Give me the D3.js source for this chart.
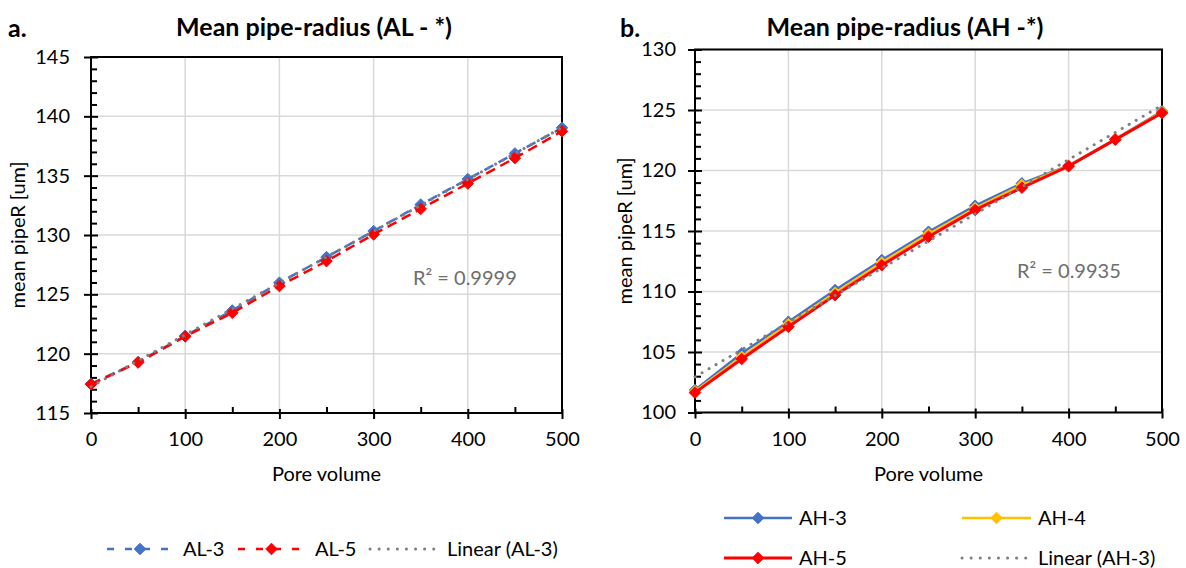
<html>
<head>
<meta charset="utf-8">
<style>
  body { margin: 0; background: #fff; }
  svg text { font-family: Lato, "Noto Sans", sans-serif; fill: #000; }
  .grid line { stroke: #d9d9d9; stroke-width: 1.5px; }
  .axis path, .axis line { stroke: #000; stroke-width: 2px; }
  .axis .domain { display: none; }
</style>
</head>
<body>
<script src="https://cdn.jsdelivr.net/npm/d3@7"></script>
<script>
// pore volume steps
var poreVol = [0, 50, 100, 150, 200, 250, 300, 350, 400, 450, 500];

// chart a
var al3 = [117.45, 119.3, 121.5, 123.64, 125.98, 128.14, 130.33, 132.56, 134.71, 136.87, 139.03];
var al5 = [117.42, 119.25, 121.45, 123.44, 125.7, 127.8, 130.05, 132.2, 134.34, 136.48, 138.74];
var r2a = "R² = 0.9999";

// chart b
var ah3 = [101.86, 104.89, 107.5, 110.12, 112.6, 114.94, 117.09, 118.94, 120.4, 122.6, 124.9];
var ah4 = [101.75, 104.6, 107.3, 109.9, 112.4, 114.75, 116.9, 118.8, 120.38, 122.58, 124.82];
var ah5 = [101.64, 104.42, 107.09, 109.7, 112.17, 114.53, 116.74, 118.58, 120.35, 122.55, 124.75];
var r2b = "R² = 0.9935";

var xTicks = [0, 100, 200, 300, 400, 500];
var xMinor = [50, 150, 250, 350, 450];
var yTicksA = [115, 120, 125, 130, 135, 140, 145];
var yTicksB = [100, 105, 110, 115, 120, 125, 130];

var blue = "#4472c4", red = "#ff0000", yellow = "#ffc000", gray = "#7f7f7f";
var fs = 20;

var svg = d3.select("body").append("svg")
    .attr("width", 1186)
    .attr("height", 568);

// least squares line, like excel's trendline
function linFit(xs, ys) {
  var mx = d3.mean(xs), my = d3.mean(ys);
  var sxy = d3.sum(xs, (x, i) => (x - mx) * (ys[i] - my));
  var sxx = d3.sum(xs, x => (x - mx) * (x - mx));
  var b = sxy / sxx;
  return { a: my - b * mx, b: b };
}

var diamond = d3.symbol().type(d3.symbolDiamond2).size(85);

function drawChart(o) {
  var g = svg.append("g");
  var x = d3.scaleLinear().domain([0, 500]).range([o.left, o.right]);
  var y = d3.scaleLinear().domain(o.yDomain).range([o.bottom, o.top]);

  // gridlines
  var grid = g.append("g").attr("class", "grid");
  grid.selectAll(".h").data(o.yTicks).join("line")
      .attr("x1", o.left).attr("x2", o.right)
      .attr("y1", d => y(d)).attr("y2", d => y(d));
  grid.selectAll(".v").data(xTicks).join("line")
      .attr("y1", o.top).attr("y2", o.bottom)
      .attr("x1", d => x(d)).attr("x2", d => x(d));

  // frame
  g.append("rect")
      .attr("x", o.left).attr("y", o.top)
      .attr("width", o.right - o.left).attr("height", o.bottom - o.top)
      .attr("fill", "none").attr("stroke", "#000").attr("stroke-width", 2);

  // y axis: majors cross, minors inside
  var minorY = d3.range(o.yDomain[0], o.yDomain[1] + 0.5, 1).filter(v => v % 5 != 0);
  g.append("g").attr("class", "axis").attr("transform", `translate(${o.left},0)`)
      .call(d3.axisLeft(y).tickValues(o.yTicks).tickSize(7).tickPadding(o.yPad))
      .selectAll("text").attr("font-size", fs).style("font-family", "Lato");
  g.append("g").attr("class", "axis").attr("transform", `translate(${o.left},0)`)
      .call(d3.axisLeft(y).tickValues(o.yTicks).tickSize(-7).tickFormat(""));
  g.append("g").attr("class", "axis").attr("transform", `translate(${o.left},0)`)
      .call(d3.axisLeft(y).tickValues(minorY).tickSize(-6).tickFormat(""));

  // x axis
  g.append("g").attr("class", "axis").attr("transform", `translate(0,${o.bottom})`)
      .call(d3.axisBottom(x).tickValues(xTicks).tickSize(6).tickPadding(13))
      .selectAll("text").attr("font-size", fs).style("font-family", "Lato");
  g.append("g").attr("class", "axis").attr("transform", `translate(0,${o.bottom})`)
      .call(d3.axisBottom(x).tickValues(xTicks).tickSize(-4).tickFormat(""));
  g.append("g").attr("class", "axis").attr("transform", `translate(0,${o.bottom})`)
      .call(d3.axisBottom(x).tickValues(xMinor).tickSize(-6).tickFormat(""));

  // series
  var line = d3.line().x((d, i) => x(poreVol[i])).y(d => y(d));
  o.series.forEach(function(s) {
    g.append("path")
        .attr("d", line(s.values))
        .attr("fill", "none")
        .attr("stroke", s.color)
        .attr("stroke-width", s.width)
        .attr("stroke-dasharray", s.dash || null);
    g.append("g").selectAll("path").data(s.values).join("path")
        .attr("d", diamond)
        .attr("transform", (d, i) => `translate(${x(poreVol[i])},${y(d)})`)
        .attr("fill", s.color)
        .attr("stroke", s.color)
        .attr("stroke-width", 1);
  });

  // trendline of first series
  var fit = linFit(poreVol, o.series[0].values);
  g.append("path")
      .attr("d", d3.line()([[x(0), y(fit.a)], [x(500), y(fit.a + fit.b * 500)]]))
      .attr("stroke", gray).attr("stroke-width", 3)
      .attr("stroke-dasharray", "0.1,8").attr("stroke-linecap", "round");

  g.append("text")
      .attr("x", o.r2x).attr("y", o.r2y)
      .attr("font-size", fs).style("fill", "#6e6e6e")
      .text(o.r2);

  // titles
  g.append("text").attr("x", o.letterX).attr("y", 37)
      .attr("font-size", 25).attr("font-weight", "bold").text(o.letter);
  g.append("text").attr("x", o.titleX).attr("y", 36)
      .attr("text-anchor", "middle")
      .attr("font-size", 25).attr("font-weight", "bold").text(o.title);
  g.append("text").attr("x", (o.left + o.right) / 2).attr("y", 481)
      .attr("text-anchor", "middle").attr("font-size", fs).text("Pore volume");
  g.append("text")
      .attr("transform", `translate(${o.yLabelX},${(o.top + o.bottom) / 2}) rotate(-90)`)
      .attr("text-anchor", "middle").attr("font-size", fs).text("mean pipeR [um]");

  // legend
  o.legend.forEach(function(l) {
    var lg = g.append("g").attr("transform", `translate(${l.x},${l.y})`);
    lg.append("line").attr("x1", 0).attr("x2", l.len)
        .attr("stroke", l.color).attr("stroke-width", l.trend ? 3 : l.width)
        .attr("stroke-dasharray", l.trend ? "0.1,9" : (l.dash || null))
        .attr("stroke-linecap", l.trend ? "round" : "butt");
    if (!l.trend) {
      lg.append("path").attr("d", diamond)
          .attr("transform", `translate(${l.len / 2},0)`)
          .attr("fill", l.color).attr("stroke", l.color);
    }
    lg.append("text").attr("x", l.len + l.gap).attr("dy", "0.35em")
        .attr("font-size", fs).text(l.label);
  });
}

drawChart({
  left: 91, right: 562, top: 57, bottom: 413,
  yDomain: [115, 145], yTicks: yTicksA, yPad: 14,
  series: [
    { values: al3, color: blue, width: 2.5, dash: "10,6" },
    { values: al5, color: red, width: 2.5, dash: "10,6" }
  ],
  r2: r2a, r2x: 413, r2y: 285,
  letter: "a.", letterX: 8, title: "Mean pipe-radius (AL - *)", titleX: 314,
  yLabelX: 25,
  legend: [
    { x: 107, y: 549, len: 66, gap: 10, color: blue, width: 2.5, dash: "7,11", label: "AL-3" },
    { x: 238, y: 549, len: 67, gap: 10, color: red, width: 2.5, dash: "7,11", label: "AL-5" },
    { x: 370, y: 549, len: 70, gap: 7, color: gray, trend: true, label: "Linear (AL-3)" }
  ]
});

drawChart({
  left: 695, right: 1162, top: 49.5, bottom: 412.5,
  yDomain: [100, 130], yTicks: yTicksB, yPad: 12,
  series: [
    { values: ah3, color: blue, width: 2.5 },
    { values: ah4, color: yellow, width: 2.5 },
    { values: ah5, color: red, width: 3 }
  ],
  r2: r2b, r2x: 1017, r2y: 278,
  letter: "b.", letterX: 620, title: "Mean pipe-radius (AH -*)", titleX: 905,
  yLabelX: 632,
  legend: [
    { x: 724, y: 518, len: 68, gap: 7, color: blue, width: 2.5, label: "AH-3" },
    { x: 962, y: 518, len: 69, gap: 7, color: yellow, width: 2.5, label: "AH-4" },
    { x: 724, y: 558, len: 68, gap: 7, color: red, width: 3, label: "AH-5" },
    { x: 962, y: 558, len: 69, gap: 7, color: gray, trend: true, label: "Linear (AH-3)" }
  ]
});
</script>
</body>
</html>
